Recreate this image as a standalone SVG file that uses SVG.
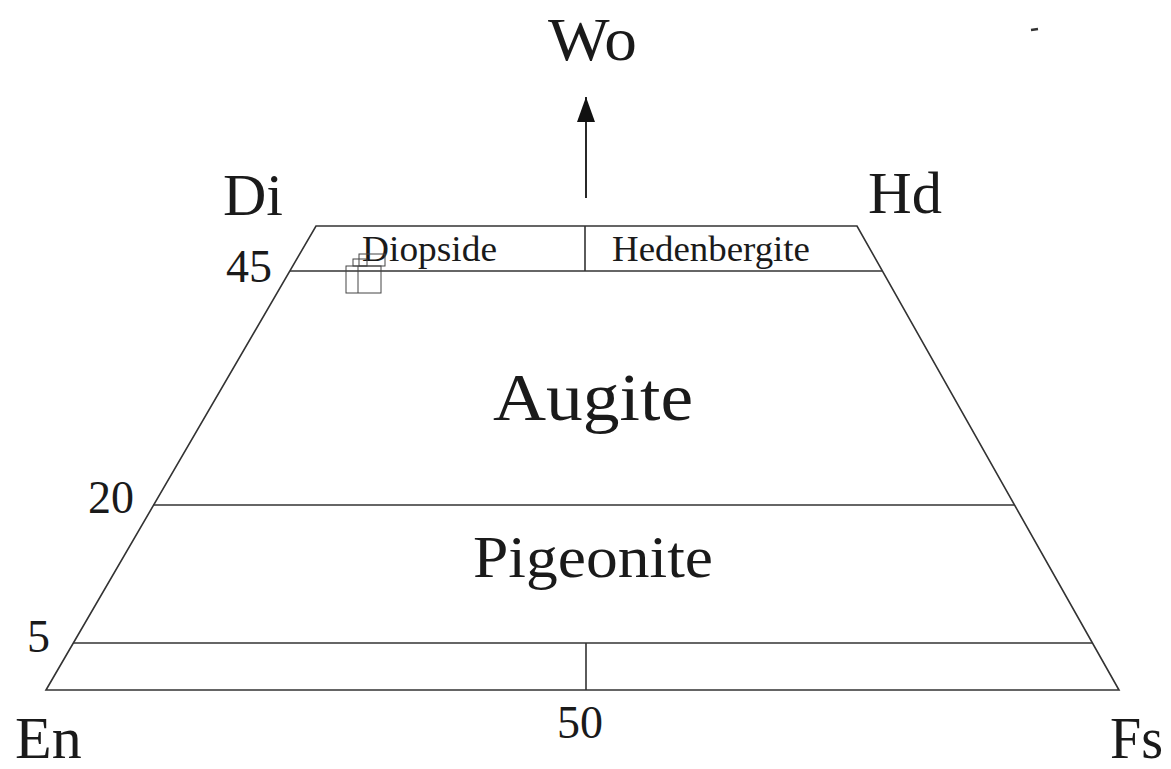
<svg xmlns="http://www.w3.org/2000/svg" width="1171" height="769" viewBox="0 0 1171 769">
<style>
.ln{stroke:#333;stroke-width:1.6;fill:none}
.t{font-family:"Liberation Serif","Times New Roman",serif;fill:#1a1a1a}
.sq{stroke:#444;stroke-width:1;fill:none}
</style>
<defs>
<marker id="ah" markerWidth="25" markerHeight="18" refX="10" refY="5" orient="auto" markerUnits="userSpaceOnUse" viewBox="0 0 10 10" preserveAspectRatio="none"><path d="M0,0 L10,5 L0,10 Z" fill="#111"/></marker>
</defs>
<rect width="1171" height="769" fill="#fff"/>
<g id="frame">
<polygon class="ln" points="46,690 316,226 857,226 1119,690"/>
<line class="ln" x1="290" y1="271" x2="882" y2="271"/>
<line class="ln" x1="153" y1="505" x2="1014" y2="505"/>
<line class="ln" x1="73" y1="643" x2="1093" y2="643"/>
<line class="ln" x1="585" y1="226" x2="585" y2="271"/>
<line class="ln" x1="586" y1="643" x2="586" y2="690"/>
</g>
<g id="connectors">
<line x1="586" y1="198" x2="586" y2="97" stroke="#111" stroke-width="1.8" marker-end="url(#ah)"/>
</g>
<g id="node-wo"><text class="t" x="548" y="60" font-size="62" textLength="89" lengthAdjust="spacingAndGlyphs">Wo</text></g>
<g id="node-di"><text class="t" x="223" y="215" font-size="60">Di</text></g>
<g id="node-hd"><text class="t" x="868" y="213" font-size="60" textLength="74" lengthAdjust="spacingAndGlyphs">Hd</text></g>
<g id="node-en"><text class="t" x="15" y="758" font-size="60">En</text></g>
<g id="node-fs"><text class="t" x="1110" y="758" font-size="60" textLength="53" lengthAdjust="spacingAndGlyphs">Fs</text></g>
<g id="tick-45"><text class="t" x="226" y="282" font-size="46">45</text></g>
<g id="tick-20"><text class="t" x="88" y="513" font-size="46">20</text></g>
<g id="tick-5"><text class="t" x="27" y="652" font-size="46">5</text></g>
<g id="tick-50"><text class="t" x="557" y="738" font-size="46">50</text></g>
<g id="node-diopside"><text class="t" x="362" y="261" font-size="36" textLength="135" lengthAdjust="spacingAndGlyphs">Diopside</text></g>
<g id="node-hedenbergite"><text class="t" x="612" y="261" font-size="36" textLength="198" lengthAdjust="spacingAndGlyphs">Hedenbergite</text></g>
<g id="node-augite"><text class="t" x="493" y="420" font-size="68" textLength="200" lengthAdjust="spacingAndGlyphs">Augite</text></g>
<g id="node-pigeonite"><text class="t" x="473" y="577" font-size="60" textLength="240" lengthAdjust="spacingAndGlyphs">Pigeonite</text></g>
<g id="marks">
<rect class="sq" x="346" y="266" width="35" height="27"/>
<line class="sq" x1="358" y1="266" x2="358" y2="293"/>
<rect class="sq" x="353" y="259" width="14" height="7"/>
<rect class="sq" x="359" y="254" width="26" height="12"/>
<line x1="1031" y1="30" x2="1038" y2="29" stroke="#333" stroke-width="2.5"/>
</g>
</svg>
